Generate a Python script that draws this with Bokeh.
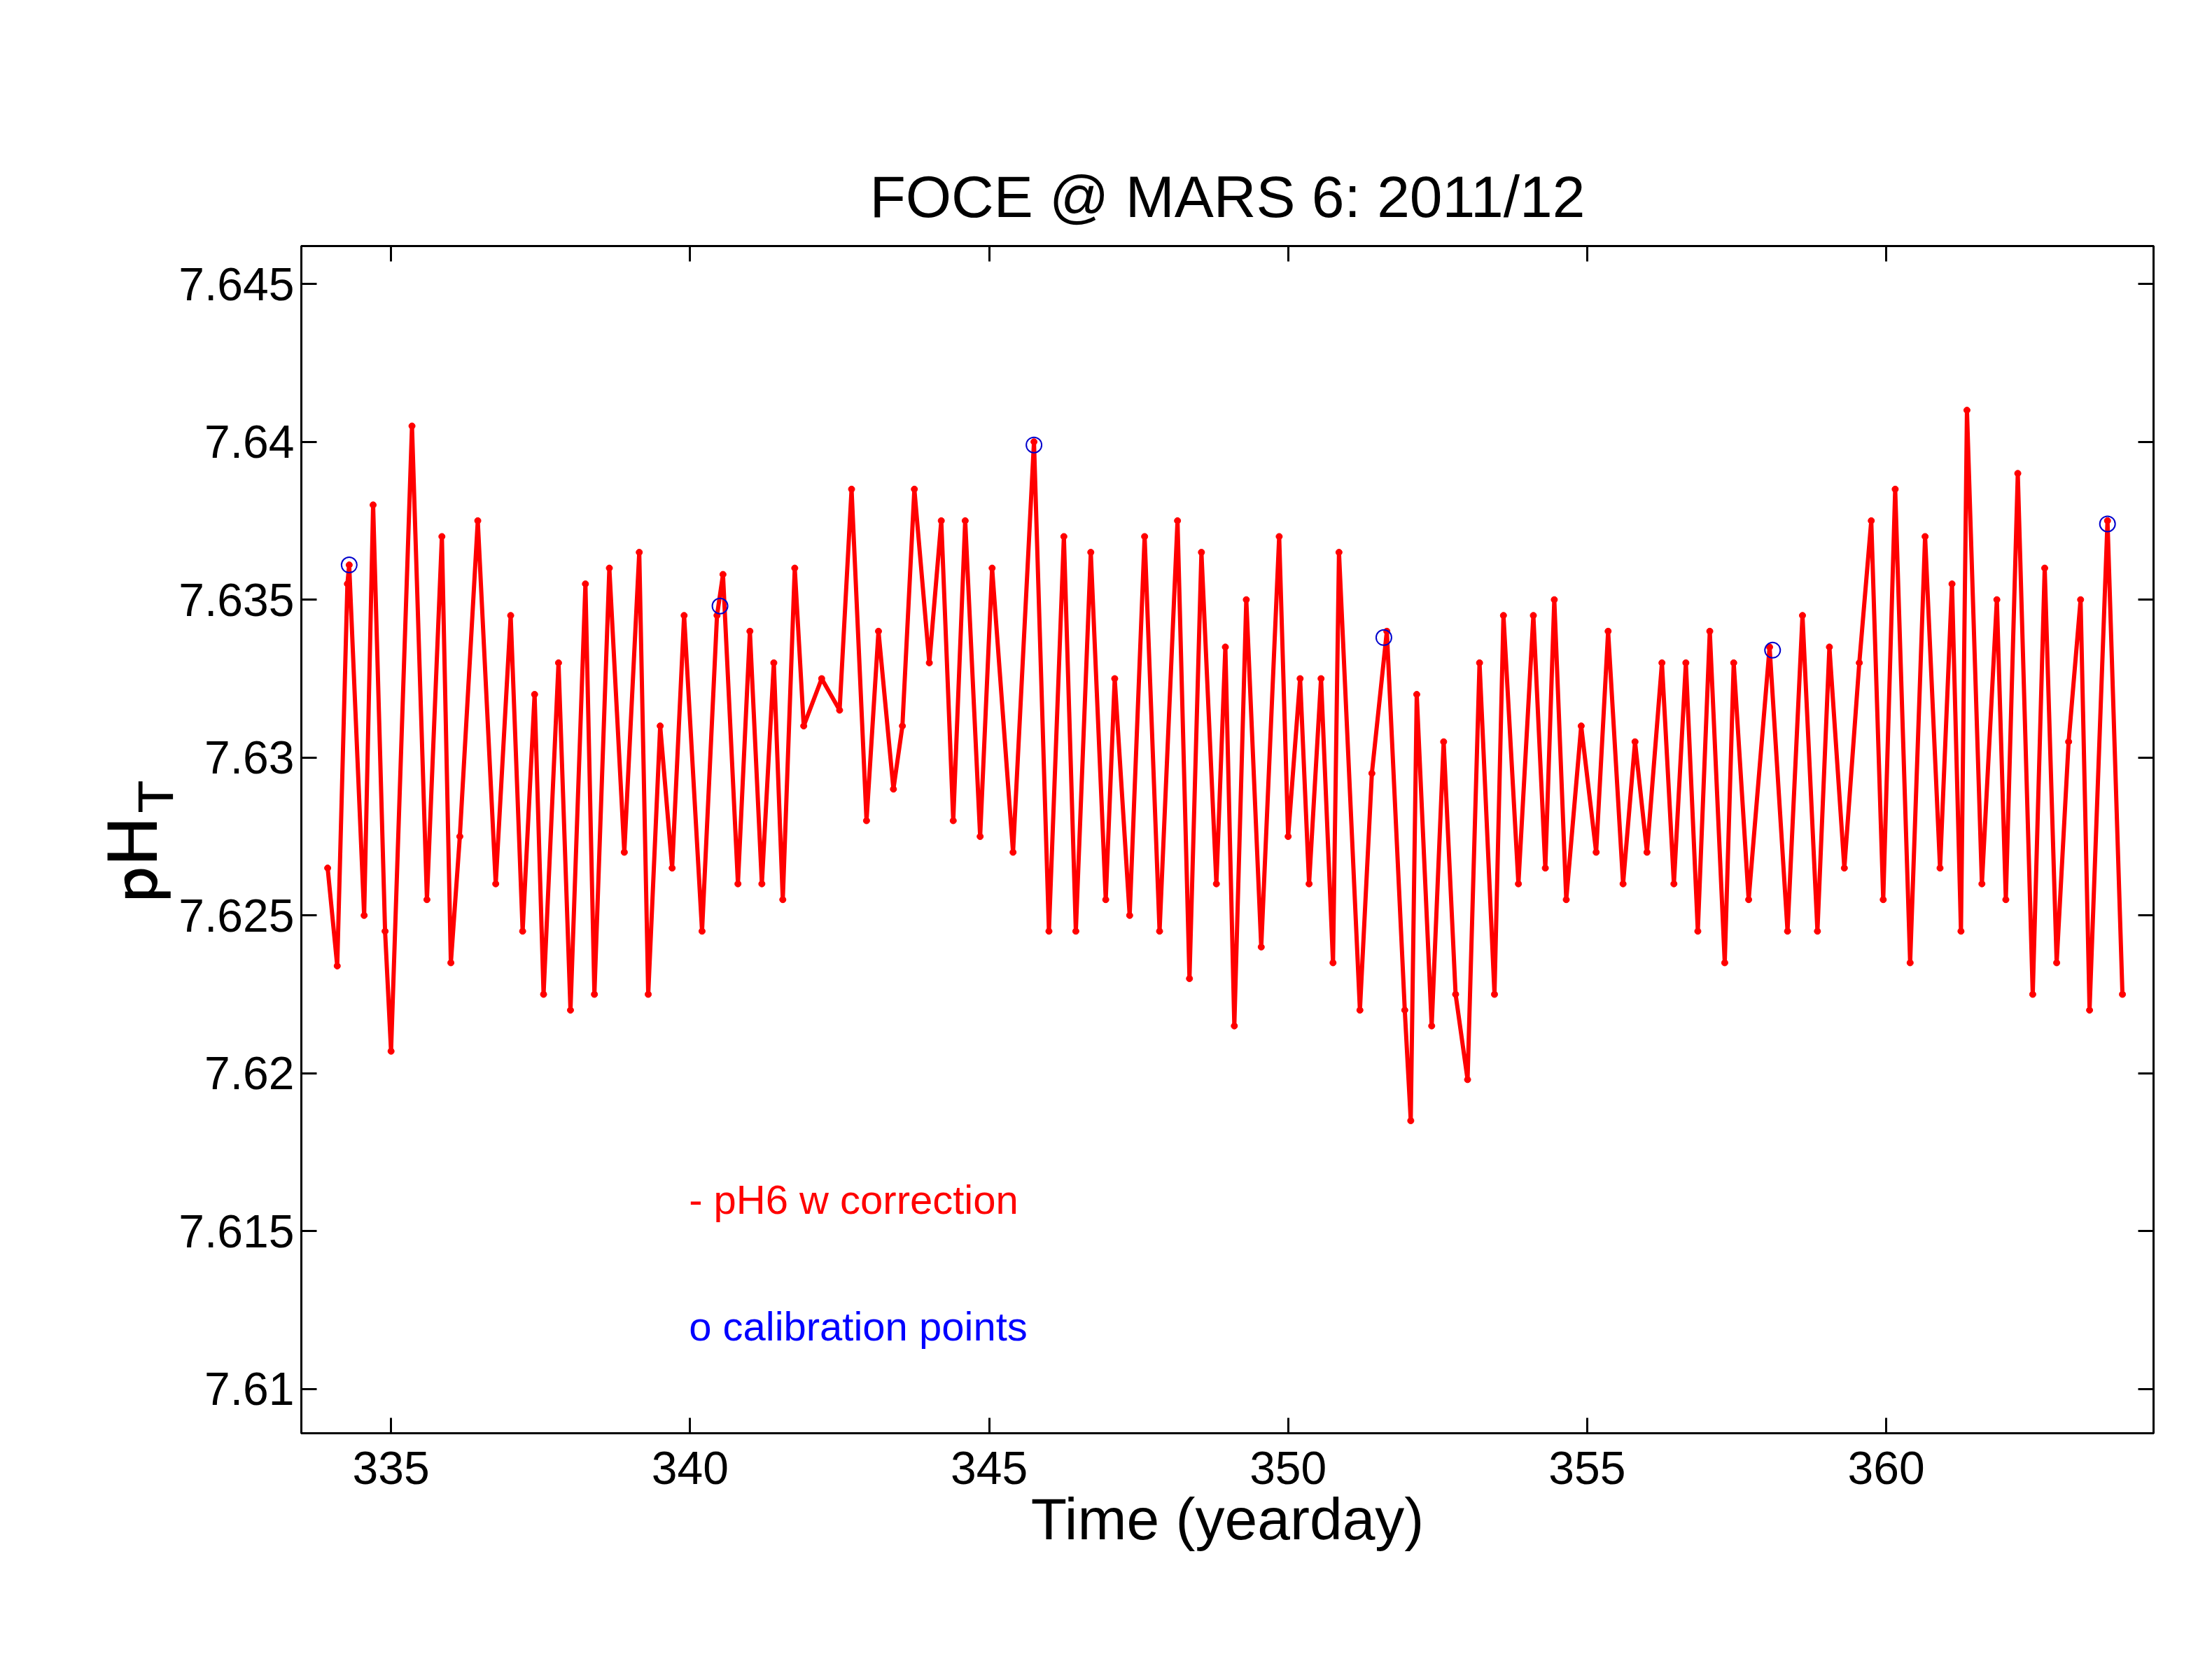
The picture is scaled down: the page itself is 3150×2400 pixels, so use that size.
from bokeh.plotting import figure
from bokeh.models import LinearAxis, Range1d, FixedTicker
from bokeh.embed import file_html
from bokeh.resources import INLINE
from bokeh.core.properties import value

# extrema (yearday, pH_T)
day = [333.94,334.1,334.27,334.3,334.55,334.7,334.9,335.0,335.35,335.6,335.85,336.0,336.15,336.45,336.75,337.0,337.2,337.4,337.55,337.8,338.0,338.25,338.4,338.65,338.9,339.15,339.3,339.5,339.7,339.9,340.2,340.45,340.55,340.8,341.0,341.2,341.4,341.55,341.75,341.9,342.2,342.5,342.7,342.95,343.15,343.4,343.55,343.75,344.0,344.2,344.4,344.6,344.85,345.05,345.4,345.75,346.0,346.25,346.45,346.7,346.95,347.1,347.35,347.6,347.85,348.15,348.35,348.55,348.8,348.95,349.1,349.3,349.55,349.85,350.0,350.2,350.35,350.55,350.75,350.85,351.2,351.4,351.65,351.95,352.05,352.15,352.4,352.6,352.8,353.0,353.2,353.45,353.6,353.85,354.1,354.3,354.45,354.65,354.9,355.15,355.35,355.6,355.8,356.0,356.25,356.45,356.65,356.85,357.05,357.3,357.45,357.7,358.05,358.35,358.6,358.85,359.05,359.3,359.55,359.75,359.95,360.15,360.4,360.65,360.9,361.1,361.25,361.35,361.6,361.85,362.0,362.2,362.45,362.65,362.85,363.05,363.25,363.4,363.7,363.95]
ph = [7.6265,7.6234,7.6355,7.6361,7.625,7.638,7.6245,7.6207,7.6405,7.6255,7.637,7.6235,7.6275,7.6375,7.626,7.6345,7.6245,7.632,7.6225,7.633,7.622,7.6355,7.6225,7.636,7.627,7.6365,7.6225,7.631,7.6265,7.6345,7.6245,7.6345,7.6358,7.626,7.634,7.626,7.633,7.6255,7.636,7.631,7.6325,7.6315,7.6385,7.628,7.634,7.629,7.631,7.6385,7.633,7.6375,7.628,7.6375,7.6275,7.636,7.627,7.640,7.6245,7.637,7.6245,7.6365,7.6255,7.6325,7.625,7.637,7.6245,7.6375,7.623,7.6365,7.626,7.6335,7.6215,7.635,7.624,7.637,7.6275,7.6325,7.626,7.6325,7.6235,7.6365,7.622,7.6295,7.634,7.622,7.6185,7.632,7.6215,7.6305,7.6225,7.6198,7.633,7.6225,7.6345,7.626,7.6345,7.6265,7.635,7.6255,7.631,7.627,7.634,7.626,7.6305,7.627,7.633,7.626,7.633,7.6245,7.634,7.6235,7.633,7.6255,7.6335,7.6245,7.6345,7.6245,7.6335,7.6265,7.633,7.6375,7.6255,7.6385,7.6235,7.637,7.6265,7.6355,7.6245,7.641,7.626,7.635,7.6255,7.639,7.6225,7.636,7.6235,7.6305,7.635,7.622,7.6375,7.6225]

cal_day = [334.3, 340.5, 345.75, 351.6, 358.1, 363.7]
cal_ph = [7.6361, 7.6348, 7.6399, 7.6338, 7.6334, 7.6374]

xticks = [335, 340, 345, 350, 355, 360]
yticks = [7.61, 7.615, 7.62, 7.625, 7.63, 7.635, 7.64, 7.645]
ytick_labels = {7.61: "7.61", 7.615: "7.615", 7.62: "7.62", 7.625: "7.625", 7.63: "7.63", 7.635: "7.635", 7.64: "7.64", 7.645: "7.645"}

FONT = "Liberation Sans"
p = figure(width=3134, height=2384, output_backend="svg", toolbar_location=None,
           x_range=Range1d(333.5, 364.47), y_range=Range1d(7.6086, 7.6462),
           title="FOCE @ MARS 6: 2011/12",
           min_border_left=430, min_border_right=58, min_border_top=351, min_border_bottom=337)
p.title.text_font = FONT
p.title.text_font_size = "84px"
p.title.text_font_style = "normal"
p.title.text_color = "black"
p.title.align = "center"
p.title.standoff = 48
p.grid.visible = False
p.outline_line_color = "black"
p.outline_line_width = 3

p.line(day, ph, line_color="#ff0000", line_width=6)
p.scatter(day, ph, size=9, color="#ff0000")
p.scatter(cal_day, cal_ph, size=22, fill_color=None, line_color="#0000cc", line_width=2)

p.text([339.98], [7.6160], text=["- pH6 w correction"], text_color="#ff0000",
       text_font=value(FONT), text_font_size="58px", text_baseline="middle")
p.text([339.98], [7.6120], text=["o calibration points"], text_color="#0000ff",
       text_font=value(FONT), text_font_size="58px", text_baseline="middle")

def style(ax, labels=True):
    ax.major_tick_in = 22
    ax.major_tick_out = 0
    ax.minor_tick_line_color = None
    ax.axis_line_width = 3
    ax.major_tick_line_width = 3
    ax.major_label_text_font = FONT
    ax.major_label_text_font_size = "66px"
    ax.major_label_text_color = "black"
    ax.axis_label_text_font = FONT
    ax.axis_label_text_font_style = "normal"
    ax.axis_label_text_font_size = "84px"
    ax.axis_label_text_color = "black"
    if not labels:
        ax.major_label_text_font_size = "0px"

p.xaxis.ticker = FixedTicker(ticks=xticks)
p.yaxis.ticker = FixedTicker(ticks=yticks)
p.yaxis.major_label_overrides = ytick_labels
p.xaxis.axis_label = "Time (yearday)"
p.yaxis.axis_label = r"$$\mathsf{pH_T}$$"
style(p.xaxis[0]); style(p.yaxis[0])
p.xaxis.major_label_standoff = 26
p.yaxis.major_label_standoff = 10
p.xaxis.axis_label_standoff = 0

top = LinearAxis(ticker=FixedTicker(ticks=xticks)); style(top, False)
right = LinearAxis(ticker=FixedTicker(ticks=yticks)); style(right, False)
p.add_layout(top, "above")
p.add_layout(right, "right")

open("out.html", "w").write(file_html(p, INLINE))
